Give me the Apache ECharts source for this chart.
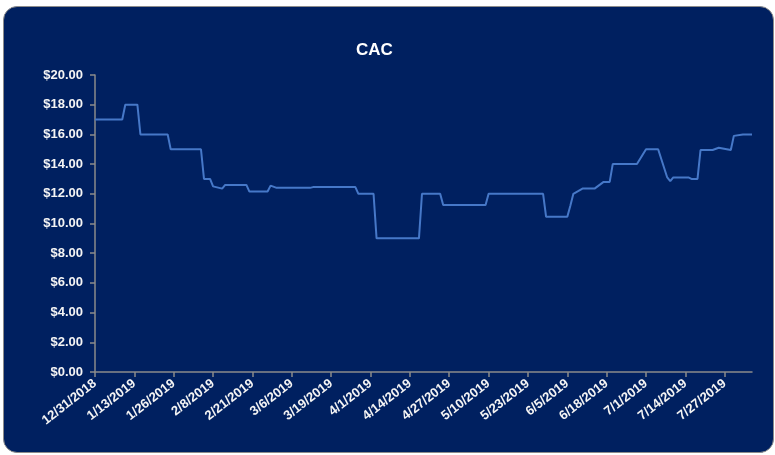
<!DOCTYPE html>
<html>
<head>
<meta charset="utf-8">
<title>CAC</title>
<script src="https://cdn.jsdelivr.net/npm/echarts@6/dist/echarts.min.js"></script>
<style>
  html, body { margin: 0; padding: 0; background: #fff; }
  #card { position: absolute; left: 3px; top: 6px; width: 769px; height: 445px;
          background: #002060; border: 1px solid #8c8c8c; border-radius: 14px; }
  #chart { position: absolute; left: 0; top: 0; width: 775px; height: 455px; }
</style>
</head>
<body>
<div id="card"></div>
<div id="chart"></div>
<script>
// dates where the CAC line changes (values held in between)
const dates = [
  '12/31/2018', '1/9/2019', '1/10/2019', '1/14/2019', '1/15/2019', '1/24/2019', '1/25/2019',
  '2/4/2019', '2/5/2019', '2/7/2019', '2/8/2019', '2/11/2019', '2/12/2019', '2/19/2019',
  '2/20/2019', '2/26/2019', '2/27/2019', '3/1/2019', '3/12/2019', '3/13/2019', '3/27/2019',
  '3/28/2019', '4/2/2019', '4/3/2019', '4/17/2019', '4/18/2019', '4/24/2019', '4/25/2019',
  '5/9/2019', '5/10/2019', '5/28/2019', '5/29/2019', '6/5/2019', '6/6/2019', '6/7/2019',
  '6/10/2019', '6/14/2019', '6/17/2019', '6/19/2019', '6/20/2019', '6/28/2019', '7/1/2019',
  '7/5/2019', '7/8/2019', '7/9/2019', '7/10/2019', '7/15/2019', '7/16/2019', '7/18/2019',
  '7/19/2019', '7/23/2019', '7/25/2019', '7/29/2019', '7/30/2019', '8/2/2019', '8/5/2019'
];
const cac = [
  17, 17, 18, 18, 16, 16, 15,
  15, 13, 13, 12.5, 12.35, 12.6, 12.6,
  12.15, 12.15, 12.55, 12.4, 12.4, 12.45, 12.45,
  12, 12, 9, 9, 12, 12, 11.25,
  11.25, 12, 12, 10.45, 10.45, 11.2, 12,
  12.35, 12.35, 12.8, 12.8, 14, 14, 15,
  15, 13.1, 12.85, 13.1, 13.1, 13, 13,
  14.95, 14.95, 15.1, 14.95, 15.9, 16, 16
];
const tickLabels = [
  '12/31/2018', '1/13/2019', '1/26/2019', '2/8/2019', '2/21/2019', '3/6/2019', '3/19/2019',
  '4/1/2019', '4/14/2019', '4/27/2019', '5/10/2019', '5/23/2019', '6/5/2019', '6/18/2019',
  '7/1/2019', '7/14/2019', '7/27/2019'
];
const lastDate = '8/5/2019';

function toTime(s) {
  const p = s.split('/');
  return Date.UTC(+p[2], +p[0] - 1, +p[1]);
}
const t0 = toTime(dates[0]);
function toDay(s) {
  return Math.round((toTime(s) - t0) / 86400000);
}
function dayLabel(d) {
  const dt = new Date(t0 + d * 86400000);
  return (dt.getUTCMonth() + 1) + '/' + dt.getUTCDate() + '/' + dt.getUTCFullYear();
}

const tickDays = tickLabels.map(toDay);
const font = "'Liberation Sans Narrow', 'Arial Narrow', Arial, sans-serif";

const chart = echarts.init(document.getElementById('chart'));
chart.setOption({
  backgroundColor: 'transparent',
  animation: false,
  title: {
    text: 'CAC',
    left: 351,
    top: 37,
    textStyle: { color: '#fff', fontSize: 17, fontWeight: 'bold', fontFamily: font }
  },
  grid: { left: 95, right: 23, top: 75, bottom: 83, outerBoundsMode: 'none' },
  xAxis: {
    type: 'value',
    min: 0,
    max: toDay(lastDate),
    axisLine: { lineStyle: { color: '#8a8a8a', width: 1.5 } },
    axisTick: { customValues: tickDays, length: 5, lineStyle: { color: '#8a8a8a', width: 1.5 } },
    axisLabel: {
      customValues: tickDays,
      formatter: v => dayLabel(v),
      rotate: 38,
      margin: 10,
      color: '#f4f4f4',
      fontSize: 13,
      fontWeight: 'bold',
      fontFamily: font
    },
    splitLine: { show: false }
  },
  yAxis: {
    type: 'value',
    min: 0,
    max: 20,
    interval: 2,
    axisLine: { show: true, lineStyle: { color: '#8a8a8a', width: 1.5 } },
    axisTick: { show: true, length: 5, lineStyle: { color: '#8a8a8a', width: 1.5 } },
    axisLabel: {
      formatter: v => '$' + v.toFixed(2),
      margin: 12,
      color: '#f4f4f4',
      fontSize: 13,
      fontWeight: 'bold',
      fontFamily: font
    },
    splitLine: { show: false }
  },
  series: [{
    type: 'line',
    data: dates.map((d, i) => [toDay(d), cac[i]]),
    showSymbol: false,
    lineStyle: { color: '#4678c8', width: 2 }
  }]
});
</script>
</body>
</html>
